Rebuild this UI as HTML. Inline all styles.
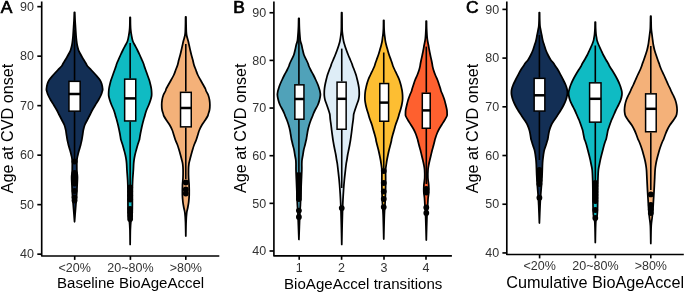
<!DOCTYPE html><html><head><meta charset="utf-8"><style>html,body{margin:0;padding:0;background:#fff;}svg{display:block;will-change:transform;}text{font-family:"Liberation Sans",sans-serif;}</style></head><body>
<svg width="685" height="292" viewBox="0 0 685 292" xmlns="http://www.w3.org/2000/svg">
<rect width="685" height="292" fill="#fff"/>
<g><path d="M74.75 12.30 C74.80 13.58 74.93 17.63 75.05 20.00 C75.17 22.37 75.28 23.87 75.45 26.50 C75.62 29.13 75.88 33.55 76.05 35.80 C76.22 38.05 76.27 38.47 76.45 40.00 C76.63 41.53 76.82 43.33 77.15 45.00 C77.48 46.67 78.00 48.67 78.45 50.00 C78.90 51.33 79.25 51.83 79.85 53.00 C80.45 54.17 81.18 55.50 82.05 57.00 C82.92 58.50 84.35 60.83 85.05 62.00 C85.75 63.17 85.87 63.33 86.25 64.00 C86.63 64.67 86.52 65.00 87.35 66.00 C88.18 67.00 89.83 68.50 91.25 70.00 C92.67 71.50 94.40 73.33 95.85 75.00 C97.30 76.67 98.97 78.50 99.95 80.00 C100.93 81.50 101.30 82.50 101.75 84.00 C102.20 85.50 102.55 87.83 102.65 89.00 C102.75 90.17 102.62 90.00 102.35 91.00 C102.08 92.00 101.70 93.50 101.05 95.00 C100.40 96.50 99.40 98.33 98.45 100.00 C97.50 101.67 96.37 103.33 95.35 105.00 C94.33 106.67 93.27 108.33 92.35 110.00 C91.43 111.67 90.70 113.33 89.85 115.00 C89.00 116.67 88.10 118.33 87.25 120.00 C86.40 121.67 85.40 123.33 84.75 125.00 C84.10 126.67 83.68 128.50 83.35 130.00 C83.02 131.50 82.98 132.50 82.75 134.00 C82.52 135.50 82.15 137.83 81.95 139.00 C81.75 140.17 81.77 140.00 81.55 141.00 C81.33 142.00 81.05 143.50 80.65 145.00 C80.25 146.50 79.62 148.33 79.15 150.00 C78.68 151.67 78.22 153.33 77.85 155.00 C77.48 156.67 77.12 157.50 76.95 160.00 C76.78 162.50 76.77 167.17 76.85 170.00 C76.93 172.83 77.40 174.50 77.45 177.00 C77.50 179.50 77.28 182.00 77.15 185.00 C77.02 188.00 76.87 191.67 76.65 195.00 C76.43 198.33 76.12 201.67 75.85 205.00 C75.58 208.33 75.27 212.20 75.05 215.00 C74.83 217.80 74.63 220.67 74.55 221.80 C74.47 220.67 74.27 217.80 74.05 215.00 C73.83 212.20 73.52 208.33 73.25 205.00 C72.98 201.67 72.67 198.33 72.45 195.00 C72.23 191.67 72.08 188.00 71.95 185.00 C71.82 182.00 71.60 179.50 71.65 177.00 C71.70 174.50 72.17 172.83 72.25 170.00 C72.33 167.17 72.32 162.50 72.15 160.00 C71.98 157.50 71.62 156.67 71.25 155.00 C70.88 153.33 70.42 151.67 69.95 150.00 C69.48 148.33 68.85 146.50 68.45 145.00 C68.05 143.50 67.77 142.00 67.55 141.00 C67.33 140.00 67.35 140.17 67.15 139.00 C66.95 137.83 66.58 135.50 66.35 134.00 C66.12 132.50 66.08 131.50 65.75 130.00 C65.42 128.50 65.00 126.67 64.35 125.00 C63.70 123.33 62.70 121.67 61.85 120.00 C61.00 118.33 60.10 116.67 59.25 115.00 C58.40 113.33 57.67 111.67 56.75 110.00 C55.83 108.33 54.77 106.67 53.75 105.00 C52.73 103.33 51.60 101.67 50.65 100.00 C49.70 98.33 48.70 96.50 48.05 95.00 C47.40 93.50 47.02 92.00 46.75 91.00 C46.48 90.00 46.35 90.17 46.45 89.00 C46.55 87.83 46.90 85.50 47.35 84.00 C47.80 82.50 48.17 81.50 49.15 80.00 C50.13 78.50 51.80 76.67 53.25 75.00 C54.70 73.33 56.43 71.50 57.85 70.00 C59.27 68.50 60.92 67.00 61.75 66.00 C62.58 65.00 62.47 64.67 62.85 64.00 C63.23 63.33 63.35 63.17 64.05 62.00 C64.75 60.83 66.18 58.50 67.05 57.00 C67.92 55.50 68.65 54.17 69.25 53.00 C69.85 51.83 70.20 51.33 70.65 50.00 C71.10 48.67 71.62 46.67 71.95 45.00 C72.28 43.33 72.47 41.53 72.65 40.00 C72.83 38.47 72.88 38.05 73.05 35.80 C73.22 33.55 73.48 29.13 73.65 26.50 C73.82 23.87 73.93 22.37 74.05 20.00 C74.17 17.63 74.30 13.58 74.35 12.30 Z" fill="#132f55" stroke="#000" stroke-width="1.75" stroke-linejoin="round"/><line x1="74.55" y1="30.00" x2="74.55" y2="80.60" stroke="#000" stroke-width="1.6"/><line x1="74.55" y1="111.90" x2="74.55" y2="160.00" stroke="#000" stroke-width="1.6"/><circle cx="74.55" cy="161.50" r="2.9" fill="#000"/><circle cx="74.55" cy="173.00" r="2.9" fill="#000"/><circle cx="74.55" cy="176.50" r="2.9" fill="#000"/><circle cx="74.55" cy="180.00" r="2.9" fill="#000"/><circle cx="74.55" cy="183.50" r="2.9" fill="#000"/><circle cx="74.55" cy="191.00" r="2.9" fill="#000"/><circle cx="74.55" cy="197.50" r="2.9" fill="#000"/><circle cx="74.55" cy="200.50" r="2.9" fill="#000"/><rect x="68.95" y="81.35" width="11.20" height="29.80" fill="#fff" stroke="#000" stroke-width="1.5"/><line x1="68.80" y1="94.00" x2="80.30" y2="94.00" stroke="#000" stroke-width="2.5"/><path d="M130.35 17.40 C130.37 18.67 130.38 22.90 130.45 25.00 C130.52 27.10 130.58 28.33 130.75 30.00 C130.92 31.67 131.12 33.17 131.45 35.00 C131.78 36.83 132.20 39.33 132.75 41.00 C133.30 42.67 133.98 43.50 134.75 45.00 C135.52 46.50 136.52 48.33 137.35 50.00 C138.18 51.67 138.98 53.33 139.75 55.00 C140.52 56.67 141.30 58.50 141.95 60.00 C142.60 61.50 143.27 63.00 143.65 64.00 C144.03 65.00 143.92 65.00 144.25 66.00 C144.58 67.00 145.12 68.50 145.65 70.00 C146.18 71.50 146.85 73.33 147.45 75.00 C148.05 76.67 148.73 78.33 149.25 80.00 C149.77 81.67 150.20 83.50 150.55 85.00 C150.90 86.50 151.17 87.67 151.35 89.00 C151.53 90.33 151.62 91.83 151.65 93.00 C151.68 94.17 151.73 94.83 151.55 96.00 C151.37 97.17 151.02 98.50 150.55 100.00 C150.08 101.50 149.42 103.33 148.75 105.00 C148.08 106.67 147.13 108.50 146.55 110.00 C145.97 111.50 145.55 113.00 145.25 114.00 C144.95 115.00 145.03 115.00 144.75 116.00 C144.47 117.00 143.97 118.50 143.55 120.00 C143.13 121.50 142.65 123.33 142.25 125.00 C141.85 126.67 141.47 128.50 141.15 130.00 C140.83 131.50 140.62 132.50 140.35 134.00 C140.08 135.50 139.78 137.83 139.55 139.00 C139.32 140.17 139.27 140.00 138.95 141.00 C138.63 142.00 138.10 143.50 137.65 145.00 C137.20 146.50 136.70 148.33 136.25 150.00 C135.80 151.67 135.32 153.33 134.95 155.00 C134.58 156.67 134.27 158.50 134.05 160.00 C133.83 161.50 133.77 162.33 133.65 164.00 C133.53 165.67 133.52 167.33 133.35 170.00 C133.18 172.67 132.82 176.67 132.65 180.00 C132.48 183.33 132.40 185.83 132.35 190.00 C132.30 194.17 132.40 200.83 132.35 205.00 C132.30 209.17 132.30 212.17 132.05 215.00 C131.80 217.83 131.13 219.50 130.85 222.00 C130.57 224.50 130.47 226.27 130.35 230.00 C130.23 233.73 130.18 242.00 130.15 244.40 C130.12 242.00 130.07 233.73 129.95 230.00 C129.83 226.27 129.73 224.50 129.45 222.00 C129.17 219.50 128.50 217.83 128.25 215.00 C128.00 212.17 128.00 209.17 127.95 205.00 C127.90 200.83 128.00 194.17 127.95 190.00 C127.90 185.83 127.82 183.33 127.65 180.00 C127.48 176.67 127.12 172.67 126.95 170.00 C126.78 167.33 126.77 165.67 126.65 164.00 C126.53 162.33 126.47 161.50 126.25 160.00 C126.03 158.50 125.72 156.67 125.35 155.00 C124.98 153.33 124.50 151.67 124.05 150.00 C123.60 148.33 123.10 146.50 122.65 145.00 C122.20 143.50 121.67 142.00 121.35 141.00 C121.03 140.00 120.98 140.17 120.75 139.00 C120.52 137.83 120.22 135.50 119.95 134.00 C119.68 132.50 119.47 131.50 119.15 130.00 C118.83 128.50 118.45 126.67 118.05 125.00 C117.65 123.33 117.17 121.50 116.75 120.00 C116.33 118.50 115.83 117.00 115.55 116.00 C115.27 115.00 115.35 115.00 115.05 114.00 C114.75 113.00 114.33 111.50 113.75 110.00 C113.17 108.50 112.22 106.67 111.55 105.00 C110.88 103.33 110.22 101.50 109.75 100.00 C109.28 98.50 108.93 97.17 108.75 96.00 C108.57 94.83 108.62 94.17 108.65 93.00 C108.68 91.83 108.77 90.33 108.95 89.00 C109.13 87.67 109.40 86.50 109.75 85.00 C110.10 83.50 110.53 81.67 111.05 80.00 C111.57 78.33 112.25 76.67 112.85 75.00 C113.45 73.33 114.12 71.50 114.65 70.00 C115.18 68.50 115.72 67.00 116.05 66.00 C116.38 65.00 116.27 65.00 116.65 64.00 C117.03 63.00 117.70 61.50 118.35 60.00 C119.00 58.50 119.78 56.67 120.55 55.00 C121.32 53.33 122.12 51.67 122.95 50.00 C123.78 48.33 124.78 46.50 125.55 45.00 C126.32 43.50 127.00 42.67 127.55 41.00 C128.10 39.33 128.52 36.83 128.85 35.00 C129.18 33.17 129.38 31.67 129.55 30.00 C129.72 28.33 129.78 27.10 129.85 25.00 C129.92 22.90 129.93 18.67 129.95 17.40 Z" fill="#0fbbc3" stroke="#000" stroke-width="1.75" stroke-linejoin="round"/><line x1="130.15" y1="43.00" x2="130.15" y2="78.40" stroke="#000" stroke-width="1.6"/><line x1="130.15" y1="121.70" x2="130.15" y2="185.00" stroke="#000" stroke-width="1.6"/><circle cx="130.15" cy="187.50" r="2.9" fill="#000"/><circle cx="130.15" cy="191.50" r="2.9" fill="#000"/><circle cx="130.15" cy="195.50" r="2.9" fill="#000"/><circle cx="130.15" cy="199.50" r="2.9" fill="#000"/><circle cx="130.15" cy="209.00" r="2.9" fill="#000"/><circle cx="130.15" cy="212.50" r="2.9" fill="#000"/><circle cx="130.15" cy="216.00" r="2.9" fill="#000"/><circle cx="130.15" cy="219.00" r="2.9" fill="#000"/><rect x="124.65" y="79.15" width="11.10" height="41.80" fill="#fff" stroke="#000" stroke-width="1.5"/><line x1="124.50" y1="98.40" x2="135.90" y2="98.40" stroke="#000" stroke-width="2.5"/><path d="M186.00 16.90 C186.02 18.25 186.05 22.48 186.10 25.00 C186.15 27.52 186.18 30.17 186.30 32.00 C186.42 33.83 186.48 34.50 186.80 36.00 C187.12 37.50 187.82 39.50 188.20 41.00 C188.58 42.50 188.77 43.50 189.10 45.00 C189.43 46.50 189.82 48.33 190.20 50.00 C190.58 51.67 190.97 53.33 191.40 55.00 C191.83 56.67 192.37 58.33 192.80 60.00 C193.23 61.67 193.48 63.33 194.00 65.00 C194.52 66.67 195.27 68.33 195.90 70.00 C196.53 71.67 197.03 73.33 197.80 75.00 C198.57 76.67 199.58 78.33 200.50 80.00 C201.42 81.67 202.47 83.50 203.30 85.00 C204.13 86.50 205.03 88.00 205.50 89.00 C205.97 90.00 205.65 90.00 206.10 91.00 C206.55 92.00 207.63 93.50 208.20 95.00 C208.77 96.50 209.22 98.33 209.50 100.00 C209.78 101.67 209.90 103.33 209.90 105.00 C209.90 106.67 209.77 108.50 209.50 110.00 C209.23 111.50 208.60 113.00 208.30 114.00 C208.00 115.00 208.20 115.00 207.70 116.00 C207.20 117.00 206.27 118.50 205.30 120.00 C204.33 121.50 202.88 123.33 201.90 125.00 C200.92 126.67 200.03 128.50 199.40 130.00 C198.77 131.50 198.63 132.33 198.10 134.00 C197.57 135.67 196.87 138.17 196.20 140.00 C195.53 141.83 194.72 143.33 194.10 145.00 C193.48 146.67 193.00 148.33 192.50 150.00 C192.00 151.67 191.55 153.33 191.10 155.00 C190.65 156.67 190.17 158.50 189.80 160.00 C189.43 161.50 189.12 162.33 188.90 164.00 C188.68 165.67 188.55 167.67 188.50 170.00 C188.45 172.33 188.50 175.50 188.60 178.00 C188.70 180.50 189.00 182.17 189.10 185.00 C189.20 187.83 189.27 192.17 189.20 195.00 C189.13 197.83 188.95 199.83 188.70 202.00 C188.45 204.17 188.03 206.17 187.70 208.00 C187.37 209.83 186.97 210.67 186.70 213.00 C186.43 215.33 186.25 218.17 186.10 222.00 C185.95 225.83 185.85 233.67 185.80 236.00 C185.75 233.67 185.65 225.83 185.50 222.00 C185.35 218.17 185.17 215.33 184.90 213.00 C184.63 210.67 184.23 209.83 183.90 208.00 C183.57 206.17 183.15 204.17 182.90 202.00 C182.65 199.83 182.47 197.83 182.40 195.00 C182.33 192.17 182.40 187.83 182.50 185.00 C182.60 182.17 182.90 180.50 183.00 178.00 C183.10 175.50 183.15 172.33 183.10 170.00 C183.05 167.67 182.92 165.67 182.70 164.00 C182.48 162.33 182.17 161.50 181.80 160.00 C181.43 158.50 180.95 156.67 180.50 155.00 C180.05 153.33 179.60 151.67 179.10 150.00 C178.60 148.33 178.12 146.67 177.50 145.00 C176.88 143.33 176.07 141.83 175.40 140.00 C174.73 138.17 174.03 135.67 173.50 134.00 C172.97 132.33 172.83 131.50 172.20 130.00 C171.57 128.50 170.68 126.67 169.70 125.00 C168.72 123.33 167.27 121.50 166.30 120.00 C165.33 118.50 164.40 117.00 163.90 116.00 C163.40 115.00 163.60 115.00 163.30 114.00 C163.00 113.00 162.37 111.50 162.10 110.00 C161.83 108.50 161.70 106.67 161.70 105.00 C161.70 103.33 161.82 101.67 162.10 100.00 C162.38 98.33 162.83 96.50 163.40 95.00 C163.97 93.50 165.05 92.00 165.50 91.00 C165.95 90.00 165.63 90.00 166.10 89.00 C166.57 88.00 167.47 86.50 168.30 85.00 C169.13 83.50 170.18 81.67 171.10 80.00 C172.02 78.33 173.03 76.67 173.80 75.00 C174.57 73.33 175.07 71.67 175.70 70.00 C176.33 68.33 177.08 66.67 177.60 65.00 C178.12 63.33 178.37 61.67 178.80 60.00 C179.23 58.33 179.77 56.67 180.20 55.00 C180.63 53.33 181.02 51.67 181.40 50.00 C181.78 48.33 182.17 46.50 182.50 45.00 C182.83 43.50 183.02 42.50 183.40 41.00 C183.78 39.50 184.48 37.50 184.80 36.00 C185.12 34.50 185.18 33.83 185.30 32.00 C185.42 30.17 185.45 27.52 185.50 25.00 C185.55 22.48 185.58 18.25 185.60 16.90 Z" fill="#f4b179" stroke="#000" stroke-width="1.75" stroke-linejoin="round"/><line x1="185.80" y1="44.00" x2="185.80" y2="91.60" stroke="#000" stroke-width="1.6"/><line x1="185.80" y1="127.60" x2="185.80" y2="179.00" stroke="#000" stroke-width="1.6"/><circle cx="185.80" cy="182.50" r="2.9" fill="#000"/><circle cx="185.80" cy="189.50" r="2.9" fill="#000"/><circle cx="185.80" cy="193.50" r="2.9" fill="#000"/><rect x="180.55" y="92.35" width="10.70" height="34.50" fill="#fff" stroke="#000" stroke-width="1.5"/><line x1="180.40" y1="108.00" x2="191.40" y2="108.00" stroke="#000" stroke-width="2.5"/><path d="M41.70 1.50 V256.00 H219.30" fill="none" stroke="#000" stroke-width="1.65" stroke-linecap="butt" stroke-linejoin="round"/><line x1="37.30" y1="6.65" x2="41.70" y2="6.65" stroke="#000" stroke-width="1.65"/><text x="34.00" y="10.85" font-size="12.5" fill="#333" text-anchor="end">90</text><line x1="37.30" y1="56.15" x2="41.70" y2="56.15" stroke="#000" stroke-width="1.65"/><text x="34.00" y="60.35" font-size="12.5" fill="#333" text-anchor="end">80</text><line x1="37.30" y1="105.65" x2="41.70" y2="105.65" stroke="#000" stroke-width="1.65"/><text x="34.00" y="109.85" font-size="12.5" fill="#333" text-anchor="end">70</text><line x1="37.30" y1="155.15" x2="41.70" y2="155.15" stroke="#000" stroke-width="1.65"/><text x="34.00" y="159.35" font-size="12.5" fill="#333" text-anchor="end">60</text><line x1="37.30" y1="204.65" x2="41.70" y2="204.65" stroke="#000" stroke-width="1.65"/><text x="34.00" y="208.85" font-size="12.5" fill="#333" text-anchor="end">50</text><line x1="37.30" y1="254.15" x2="41.70" y2="254.15" stroke="#000" stroke-width="1.65"/><text x="34.00" y="258.35" font-size="12.5" fill="#333" text-anchor="end">40</text><line x1="74.70" y1="256.00" x2="74.70" y2="259.90" stroke="#000" stroke-width="1.65"/><text x="74.70" y="271.60" font-size="12.5" fill="#333" text-anchor="middle">&lt;20%</text><line x1="130.40" y1="256.00" x2="130.40" y2="259.90" stroke="#000" stroke-width="1.65"/><text x="130.40" y="271.60" font-size="12.5" fill="#333" text-anchor="middle">20~80%</text><line x1="185.80" y1="256.00" x2="185.80" y2="259.90" stroke="#000" stroke-width="1.65"/><text x="185.80" y="271.60" font-size="12.5" fill="#333" text-anchor="middle">&gt;80%</text><text x="130.60" y="288.40" font-size="15.05" fill="#000" text-anchor="middle">Baseline BioAgeAccel</text><text transform="translate(13.20 128.50) rotate(-90)" font-size="16.2" fill="#000" text-anchor="middle">Age at CVD onset</text><text x="0.80" y="12.85" font-size="17.4" fill="#000" stroke="#000" stroke-width="0.7">A</text></g>
<g><path d="M299.15 18.40 C299.17 19.67 299.22 23.73 299.30 26.00 C299.37 28.27 299.48 30.17 299.60 32.00 C299.72 33.83 299.87 35.50 300.00 37.00 C300.13 38.50 300.13 39.67 300.40 41.00 C300.67 42.33 301.22 43.50 301.60 45.00 C301.98 46.50 302.30 48.33 302.70 50.00 C303.10 51.67 303.38 53.33 304.00 55.00 C304.62 56.67 305.70 58.50 306.40 60.00 C307.10 61.50 307.80 63.00 308.20 64.00 C308.60 65.00 308.38 65.00 308.80 66.00 C309.22 67.00 309.93 68.50 310.70 70.00 C311.47 71.50 312.55 73.33 313.40 75.00 C314.25 76.67 315.03 78.33 315.80 80.00 C316.57 81.67 317.42 83.50 318.00 85.00 C318.58 86.50 318.98 88.00 319.30 89.00 C319.62 90.00 319.72 90.00 319.90 91.00 C320.08 92.00 320.47 93.50 320.40 95.00 C320.33 96.50 319.93 98.33 319.50 100.00 C319.07 101.67 318.53 103.33 317.80 105.00 C317.07 106.67 315.85 108.50 315.10 110.00 C314.35 111.50 313.72 113.00 313.30 114.00 C312.88 115.00 313.00 115.00 312.60 116.00 C312.20 117.00 311.47 118.50 310.90 120.00 C310.33 121.50 309.70 123.33 309.20 125.00 C308.70 126.67 308.23 128.50 307.90 130.00 C307.57 131.50 307.45 132.50 307.20 134.00 C306.95 135.50 306.62 137.83 306.40 139.00 C306.18 140.17 306.13 140.00 305.90 141.00 C305.67 142.00 305.37 143.50 305.00 145.00 C304.63 146.50 304.05 148.33 303.70 150.00 C303.35 151.67 303.18 153.33 302.90 155.00 C302.62 156.67 302.18 158.50 302.00 160.00 C301.82 161.50 301.83 162.33 301.80 164.00 C301.77 165.67 301.87 167.33 301.80 170.00 C301.73 172.67 301.57 175.83 301.40 180.00 C301.23 184.17 300.97 190.83 300.80 195.00 C300.63 199.17 300.57 201.67 300.40 205.00 C300.23 208.33 300.05 209.25 299.80 215.00 C299.55 220.75 299.05 235.42 298.90 239.50 C298.75 235.42 298.25 220.75 298.00 215.00 C297.75 209.25 297.57 208.33 297.40 205.00 C297.23 201.67 297.17 199.17 297.00 195.00 C296.83 190.83 296.57 184.17 296.40 180.00 C296.23 175.83 296.07 172.67 296.00 170.00 C295.93 167.33 296.03 165.67 296.00 164.00 C295.97 162.33 295.98 161.50 295.80 160.00 C295.62 158.50 295.18 156.67 294.90 155.00 C294.62 153.33 294.45 151.67 294.10 150.00 C293.75 148.33 293.17 146.50 292.80 145.00 C292.43 143.50 292.13 142.00 291.90 141.00 C291.67 140.00 291.62 140.17 291.40 139.00 C291.18 137.83 290.85 135.50 290.60 134.00 C290.35 132.50 290.23 131.50 289.90 130.00 C289.57 128.50 289.10 126.67 288.60 125.00 C288.10 123.33 287.47 121.50 286.90 120.00 C286.33 118.50 285.60 117.00 285.20 116.00 C284.80 115.00 284.92 115.00 284.50 114.00 C284.08 113.00 283.45 111.50 282.70 110.00 C281.95 108.50 280.73 106.67 280.00 105.00 C279.27 103.33 278.73 101.67 278.30 100.00 C277.87 98.33 277.47 96.50 277.40 95.00 C277.33 93.50 277.72 92.00 277.90 91.00 C278.08 90.00 278.18 90.00 278.50 89.00 C278.82 88.00 279.22 86.50 279.80 85.00 C280.38 83.50 281.23 81.67 282.00 80.00 C282.77 78.33 283.55 76.67 284.40 75.00 C285.25 73.33 286.33 71.50 287.10 70.00 C287.87 68.50 288.58 67.00 289.00 66.00 C289.42 65.00 289.20 65.00 289.60 64.00 C290.00 63.00 290.70 61.50 291.40 60.00 C292.10 58.50 293.18 56.67 293.80 55.00 C294.42 53.33 294.70 51.67 295.10 50.00 C295.50 48.33 295.82 46.50 296.20 45.00 C296.58 43.50 297.13 42.33 297.40 41.00 C297.67 39.67 297.67 38.50 297.80 37.00 C297.93 35.50 298.08 33.83 298.20 32.00 C298.32 30.17 298.43 28.27 298.50 26.00 C298.57 23.73 298.62 19.67 298.65 18.40 Z" fill="#50a2b9" stroke="#000" stroke-width="1.75" stroke-linejoin="round"/><line x1="298.90" y1="35.00" x2="298.90" y2="84.10" stroke="#000" stroke-width="1.6"/><line x1="298.90" y1="120.00" x2="298.90" y2="172.00" stroke="#000" stroke-width="1.6"/><circle cx="298.90" cy="175.00" r="2.9" fill="#000"/><circle cx="298.90" cy="178.00" r="2.9" fill="#000"/><circle cx="298.90" cy="181.00" r="2.9" fill="#000"/><circle cx="298.90" cy="184.00" r="2.9" fill="#000"/><circle cx="298.90" cy="187.00" r="2.9" fill="#000"/><circle cx="298.90" cy="190.00" r="2.9" fill="#000"/><circle cx="298.90" cy="193.00" r="2.9" fill="#000"/><circle cx="298.90" cy="196.00" r="2.9" fill="#000"/><circle cx="298.90" cy="199.00" r="2.9" fill="#000"/><circle cx="298.90" cy="210.60" r="2.9" fill="#000"/><circle cx="298.90" cy="216.90" r="2.9" fill="#000"/><rect x="294.85" y="84.85" width="9.10" height="34.40" fill="#fff" stroke="#000" stroke-width="1.5"/><line x1="294.70" y1="99.00" x2="304.10" y2="99.00" stroke="#000" stroke-width="2.5"/><path d="M341.95 12.50 C341.97 13.75 342.02 17.08 342.05 20.00 C342.08 22.92 342.05 27.50 342.15 30.00 C342.25 32.50 342.42 33.17 342.65 35.00 C342.88 36.83 343.22 39.33 343.55 41.00 C343.88 42.67 344.18 43.50 344.65 45.00 C345.12 46.50 345.75 48.33 346.35 50.00 C346.95 51.67 347.58 53.33 348.25 55.00 C348.92 56.67 349.72 58.50 350.35 60.00 C350.98 61.50 351.67 63.00 352.05 64.00 C352.43 65.00 352.28 65.00 352.65 66.00 C353.02 67.00 353.68 68.50 354.25 70.00 C354.82 71.50 355.53 73.33 356.05 75.00 C356.57 76.67 356.95 78.33 357.35 80.00 C357.75 81.67 358.17 83.50 358.45 85.00 C358.73 86.50 358.92 87.67 359.05 89.00 C359.18 90.33 359.23 91.83 359.25 93.00 C359.27 94.17 359.28 94.83 359.15 96.00 C359.02 97.17 358.87 98.50 358.45 100.00 C358.03 101.50 357.23 103.33 356.65 105.00 C356.07 106.67 355.43 108.50 354.95 110.00 C354.47 111.50 354.00 112.83 353.75 114.00 C353.50 115.17 353.55 116.00 353.45 117.00 C353.35 118.00 353.32 118.67 353.15 120.00 C352.98 121.33 352.67 123.33 352.45 125.00 C352.23 126.67 352.03 128.50 351.85 130.00 C351.67 131.50 351.55 132.50 351.35 134.00 C351.15 135.50 350.82 137.83 350.65 139.00 C350.48 140.17 350.52 140.00 350.35 141.00 C350.18 142.00 349.93 143.50 349.65 145.00 C349.37 146.50 348.98 148.33 348.65 150.00 C348.32 151.67 347.95 153.33 347.65 155.00 C347.35 156.67 347.10 158.50 346.85 160.00 C346.60 161.50 346.38 162.33 346.15 164.00 C345.92 165.67 345.75 167.33 345.45 170.00 C345.15 172.67 344.67 176.67 344.35 180.00 C344.03 183.33 343.78 186.67 343.55 190.00 C343.32 193.33 343.12 196.67 342.95 200.00 C342.78 203.33 342.68 205.83 342.55 210.00 C342.42 214.17 342.28 219.27 342.15 225.00 C342.02 230.73 341.82 241.17 341.75 244.40 C341.68 241.17 341.48 230.73 341.35 225.00 C341.22 219.27 341.08 214.17 340.95 210.00 C340.82 205.83 340.72 203.33 340.55 200.00 C340.38 196.67 340.18 193.33 339.95 190.00 C339.72 186.67 339.47 183.33 339.15 180.00 C338.83 176.67 338.35 172.67 338.05 170.00 C337.75 167.33 337.58 165.67 337.35 164.00 C337.12 162.33 336.90 161.50 336.65 160.00 C336.40 158.50 336.15 156.67 335.85 155.00 C335.55 153.33 335.18 151.67 334.85 150.00 C334.52 148.33 334.13 146.50 333.85 145.00 C333.57 143.50 333.32 142.00 333.15 141.00 C332.98 140.00 333.02 140.17 332.85 139.00 C332.68 137.83 332.35 135.50 332.15 134.00 C331.95 132.50 331.83 131.50 331.65 130.00 C331.47 128.50 331.27 126.67 331.05 125.00 C330.83 123.33 330.52 121.33 330.35 120.00 C330.18 118.67 330.15 118.00 330.05 117.00 C329.95 116.00 330.00 115.17 329.75 114.00 C329.50 112.83 329.03 111.50 328.55 110.00 C328.07 108.50 327.43 106.67 326.85 105.00 C326.27 103.33 325.47 101.50 325.05 100.00 C324.63 98.50 324.48 97.17 324.35 96.00 C324.22 94.83 324.23 94.17 324.25 93.00 C324.27 91.83 324.32 90.33 324.45 89.00 C324.58 87.67 324.77 86.50 325.05 85.00 C325.33 83.50 325.75 81.67 326.15 80.00 C326.55 78.33 326.93 76.67 327.45 75.00 C327.97 73.33 328.68 71.50 329.25 70.00 C329.82 68.50 330.48 67.00 330.85 66.00 C331.22 65.00 331.07 65.00 331.45 64.00 C331.83 63.00 332.52 61.50 333.15 60.00 C333.78 58.50 334.58 56.67 335.25 55.00 C335.92 53.33 336.55 51.67 337.15 50.00 C337.75 48.33 338.38 46.50 338.85 45.00 C339.32 43.50 339.62 42.67 339.95 41.00 C340.28 39.33 340.62 36.83 340.85 35.00 C341.08 33.17 341.25 32.50 341.35 30.00 C341.45 27.50 341.42 22.92 341.45 20.00 C341.48 17.08 341.53 13.75 341.55 12.50 Z" fill="#deedf7" stroke="#000" stroke-width="1.75" stroke-linejoin="round"/><line x1="341.75" y1="48.60" x2="341.75" y2="81.40" stroke="#000" stroke-width="1.6"/><line x1="341.75" y1="130.00" x2="341.75" y2="188.00" stroke="#000" stroke-width="1.6"/><circle cx="341.75" cy="208.10" r="2.9" fill="#000"/><rect x="337.05" y="82.15" width="9.10" height="47.10" fill="#fff" stroke="#000" stroke-width="1.5"/><line x1="336.90" y1="98.80" x2="346.30" y2="98.80" stroke="#000" stroke-width="2.5"/><path d="M383.95 20.30 C383.97 21.58 383.98 25.88 384.05 28.00 C384.12 30.12 384.22 31.50 384.35 33.00 C384.48 34.50 384.68 35.67 384.85 37.00 C385.02 38.33 385.12 39.67 385.35 41.00 C385.58 42.33 385.87 43.50 386.25 45.00 C386.63 46.50 387.17 48.33 387.65 50.00 C388.13 51.67 388.60 53.33 389.15 55.00 C389.70 56.67 390.42 58.50 390.95 60.00 C391.48 61.50 392.02 63.00 392.35 64.00 C392.68 65.00 392.55 65.00 392.95 66.00 C393.35 67.00 394.05 68.50 394.75 70.00 C395.45 71.50 396.38 73.33 397.15 75.00 C397.92 76.67 398.73 78.33 399.35 80.00 C399.97 81.67 400.45 83.50 400.85 85.00 C401.25 86.50 401.53 88.00 401.75 89.00 C401.97 90.00 402.02 90.00 402.15 91.00 C402.28 92.00 402.48 93.50 402.55 95.00 C402.62 96.50 402.68 98.33 402.55 100.00 C402.42 101.67 402.10 103.33 401.75 105.00 C401.40 106.67 400.88 108.50 400.45 110.00 C400.02 111.50 399.45 113.00 399.15 114.00 C398.85 115.00 398.95 115.00 398.65 116.00 C398.35 117.00 397.87 118.50 397.35 120.00 C396.83 121.50 396.08 123.33 395.55 125.00 C395.02 126.67 394.58 128.50 394.15 130.00 C393.72 131.50 393.37 132.50 392.95 134.00 C392.53 135.50 391.92 137.83 391.65 139.00 C391.38 140.17 391.57 140.00 391.35 141.00 C391.13 142.00 390.73 143.50 390.35 145.00 C389.97 146.50 389.45 148.33 389.05 150.00 C388.65 151.67 388.30 153.33 387.95 155.00 C387.60 156.67 387.22 158.50 386.95 160.00 C386.68 161.50 386.57 162.33 386.35 164.00 C386.13 165.67 385.77 166.50 385.65 170.00 C385.53 173.50 385.72 180.00 385.65 185.00 C385.58 190.00 385.47 195.00 385.25 200.00 C385.03 205.00 384.60 208.50 384.35 215.00 C384.10 221.50 383.85 235.00 383.75 239.00 C383.65 235.00 383.40 221.50 383.15 215.00 C382.90 208.50 382.47 205.00 382.25 200.00 C382.03 195.00 381.92 190.00 381.85 185.00 C381.78 180.00 381.97 173.50 381.85 170.00 C381.73 166.50 381.37 165.67 381.15 164.00 C380.93 162.33 380.82 161.50 380.55 160.00 C380.28 158.50 379.90 156.67 379.55 155.00 C379.20 153.33 378.85 151.67 378.45 150.00 C378.05 148.33 377.53 146.50 377.15 145.00 C376.77 143.50 376.37 142.00 376.15 141.00 C375.93 140.00 376.12 140.17 375.85 139.00 C375.58 137.83 374.97 135.50 374.55 134.00 C374.13 132.50 373.78 131.50 373.35 130.00 C372.92 128.50 372.48 126.67 371.95 125.00 C371.42 123.33 370.67 121.50 370.15 120.00 C369.63 118.50 369.15 117.00 368.85 116.00 C368.55 115.00 368.65 115.00 368.35 114.00 C368.05 113.00 367.48 111.50 367.05 110.00 C366.62 108.50 366.10 106.67 365.75 105.00 C365.40 103.33 365.08 101.67 364.95 100.00 C364.82 98.33 364.88 96.50 364.95 95.00 C365.02 93.50 365.22 92.00 365.35 91.00 C365.48 90.00 365.53 90.00 365.75 89.00 C365.97 88.00 366.25 86.50 366.65 85.00 C367.05 83.50 367.53 81.67 368.15 80.00 C368.77 78.33 369.58 76.67 370.35 75.00 C371.12 73.33 372.05 71.50 372.75 70.00 C373.45 68.50 374.15 67.00 374.55 66.00 C374.95 65.00 374.82 65.00 375.15 64.00 C375.48 63.00 376.02 61.50 376.55 60.00 C377.08 58.50 377.80 56.67 378.35 55.00 C378.90 53.33 379.37 51.67 379.85 50.00 C380.33 48.33 380.87 46.50 381.25 45.00 C381.63 43.50 381.92 42.33 382.15 41.00 C382.38 39.67 382.48 38.33 382.65 37.00 C382.82 35.67 383.02 34.50 383.15 33.00 C383.28 31.50 383.38 30.12 383.45 28.00 C383.52 25.88 383.53 21.58 383.55 20.30 Z" fill="#fdbe32" stroke="#000" stroke-width="1.75" stroke-linejoin="round"/><line x1="383.75" y1="52.50" x2="383.75" y2="82.80" stroke="#000" stroke-width="1.6"/><line x1="383.75" y1="122.00" x2="383.75" y2="168.00" stroke="#000" stroke-width="1.6"/><circle cx="383.75" cy="171.00" r="2.9" fill="#000"/><circle cx="383.75" cy="183.00" r="2.9" fill="#000"/><circle cx="383.75" cy="191.50" r="2.9" fill="#000"/><circle cx="383.75" cy="199.00" r="2.9" fill="#000"/><circle cx="383.75" cy="207.10" r="2.9" fill="#000"/><rect x="379.80" y="83.55" width="8.80" height="37.70" fill="#fff" stroke="#000" stroke-width="1.5"/><line x1="379.65" y1="102.60" x2="388.75" y2="102.60" stroke="#000" stroke-width="2.5"/><path d="M426.50 21.10 C426.52 22.25 426.53 25.85 426.60 28.00 C426.67 30.15 426.80 32.33 426.90 34.00 C427.00 35.67 427.08 36.83 427.20 38.00 C427.32 39.17 427.40 39.83 427.60 41.00 C427.80 42.17 428.12 43.50 428.40 45.00 C428.68 46.50 428.98 48.33 429.30 50.00 C429.62 51.67 429.95 53.33 430.30 55.00 C430.65 56.67 431.08 58.50 431.40 60.00 C431.72 61.50 432.02 63.00 432.20 64.00 C432.38 65.00 432.28 65.00 432.50 66.00 C432.72 67.00 433.03 68.50 433.50 70.00 C433.97 71.50 434.63 73.33 435.30 75.00 C435.97 76.67 436.85 78.33 437.50 80.00 C438.15 81.67 438.70 83.50 439.20 85.00 C439.70 86.50 440.20 88.00 440.50 89.00 C440.80 90.00 440.63 90.00 441.00 91.00 C441.37 92.00 442.12 93.50 442.70 95.00 C443.28 96.50 443.98 98.33 444.50 100.00 C445.02 101.67 445.40 103.33 445.80 105.00 C446.20 106.67 446.68 108.50 446.90 110.00 C447.12 111.50 447.10 113.00 447.10 114.00 C447.10 115.00 447.30 115.00 446.90 116.00 C446.50 117.00 445.58 118.50 444.70 120.00 C443.82 121.50 442.62 123.33 441.60 125.00 C440.58 126.67 439.40 128.50 438.60 130.00 C437.80 131.50 437.38 132.50 436.80 134.00 C436.22 135.50 435.47 137.83 435.10 139.00 C434.73 140.17 434.85 140.00 434.60 141.00 C434.35 142.00 434.00 143.50 433.60 145.00 C433.20 146.50 432.63 148.33 432.20 150.00 C431.77 151.67 431.40 153.33 431.00 155.00 C430.60 156.67 430.15 158.50 429.80 160.00 C429.45 161.50 429.20 162.33 428.90 164.00 C428.60 165.67 428.17 167.67 428.00 170.00 C427.83 172.33 427.78 175.50 427.90 178.00 C428.02 180.50 428.55 182.67 428.70 185.00 C428.85 187.33 428.90 189.83 428.80 192.00 C428.70 194.17 428.28 195.83 428.10 198.00 C427.92 200.17 427.88 202.17 427.70 205.00 C427.52 207.83 427.23 209.17 427.00 215.00 C426.77 220.83 426.42 235.83 426.30 240.00 C426.18 235.83 425.83 220.83 425.60 215.00 C425.37 209.17 425.08 207.83 424.90 205.00 C424.72 202.17 424.68 200.17 424.50 198.00 C424.32 195.83 423.90 194.17 423.80 192.00 C423.70 189.83 423.75 187.33 423.90 185.00 C424.05 182.67 424.58 180.50 424.70 178.00 C424.82 175.50 424.77 172.33 424.60 170.00 C424.43 167.67 424.00 165.67 423.70 164.00 C423.40 162.33 423.15 161.50 422.80 160.00 C422.45 158.50 422.00 156.67 421.60 155.00 C421.20 153.33 420.83 151.67 420.40 150.00 C419.97 148.33 419.40 146.50 419.00 145.00 C418.60 143.50 418.25 142.00 418.00 141.00 C417.75 140.00 417.87 140.17 417.50 139.00 C417.13 137.83 416.38 135.50 415.80 134.00 C415.22 132.50 414.80 131.50 414.00 130.00 C413.20 128.50 412.02 126.67 411.00 125.00 C409.98 123.33 408.78 121.50 407.90 120.00 C407.02 118.50 406.10 117.00 405.70 116.00 C405.30 115.00 405.50 115.00 405.50 114.00 C405.50 113.00 405.48 111.50 405.70 110.00 C405.92 108.50 406.40 106.67 406.80 105.00 C407.20 103.33 407.58 101.67 408.10 100.00 C408.62 98.33 409.32 96.50 409.90 95.00 C410.48 93.50 411.23 92.00 411.60 91.00 C411.97 90.00 411.80 90.00 412.10 89.00 C412.40 88.00 412.90 86.50 413.40 85.00 C413.90 83.50 414.45 81.67 415.10 80.00 C415.75 78.33 416.63 76.67 417.30 75.00 C417.97 73.33 418.63 71.50 419.10 70.00 C419.57 68.50 419.88 67.00 420.10 66.00 C420.32 65.00 420.22 65.00 420.40 64.00 C420.58 63.00 420.88 61.50 421.20 60.00 C421.52 58.50 421.95 56.67 422.30 55.00 C422.65 53.33 422.98 51.67 423.30 50.00 C423.62 48.33 423.92 46.50 424.20 45.00 C424.48 43.50 424.80 42.17 425.00 41.00 C425.20 39.83 425.28 39.17 425.40 38.00 C425.52 36.83 425.60 35.67 425.70 34.00 C425.80 32.33 425.93 30.15 426.00 28.00 C426.07 25.85 426.08 22.25 426.10 21.10 Z" fill="#fe602f" stroke="#000" stroke-width="1.75" stroke-linejoin="round"/><line x1="426.30" y1="46.60" x2="426.30" y2="92.50" stroke="#000" stroke-width="1.6"/><line x1="426.30" y1="129.00" x2="426.30" y2="184.00" stroke="#000" stroke-width="1.6"/><circle cx="426.30" cy="189.00" r="2.9" fill="#000"/><circle cx="426.30" cy="192.50" r="2.9" fill="#000"/><circle cx="426.30" cy="207.40" r="2.9" fill="#000"/><circle cx="426.30" cy="213.00" r="2.9" fill="#000"/><rect x="422.30" y="93.25" width="7.90" height="35.00" fill="#fff" stroke="#000" stroke-width="1.5"/><line x1="422.15" y1="110.40" x2="430.35" y2="110.40" stroke="#000" stroke-width="2.5"/><path d="M273.90 1.50 V255.90 H451.90" fill="none" stroke="#000" stroke-width="1.65" stroke-linecap="butt" stroke-linejoin="round"/><line x1="269.50" y1="12.75" x2="273.90" y2="12.75" stroke="#000" stroke-width="1.65"/><text x="266.20" y="16.95" font-size="12.5" fill="#333" text-anchor="end">90</text><line x1="269.50" y1="60.40" x2="273.90" y2="60.40" stroke="#000" stroke-width="1.65"/><text x="266.20" y="64.60" font-size="12.5" fill="#333" text-anchor="end">80</text><line x1="269.50" y1="108.05" x2="273.90" y2="108.05" stroke="#000" stroke-width="1.65"/><text x="266.20" y="112.25" font-size="12.5" fill="#333" text-anchor="end">70</text><line x1="269.50" y1="155.70" x2="273.90" y2="155.70" stroke="#000" stroke-width="1.65"/><text x="266.20" y="159.90" font-size="12.5" fill="#333" text-anchor="end">60</text><line x1="269.50" y1="203.35" x2="273.90" y2="203.35" stroke="#000" stroke-width="1.65"/><text x="266.20" y="207.55" font-size="12.5" fill="#333" text-anchor="end">50</text><line x1="269.50" y1="251.00" x2="273.90" y2="251.00" stroke="#000" stroke-width="1.65"/><text x="266.20" y="255.20" font-size="12.5" fill="#333" text-anchor="end">40</text><line x1="299.20" y1="255.90" x2="299.20" y2="259.80" stroke="#000" stroke-width="1.65"/><text x="299.20" y="271.50" font-size="12.5" fill="#333" text-anchor="middle">1</text><line x1="341.60" y1="255.90" x2="341.60" y2="259.80" stroke="#000" stroke-width="1.65"/><text x="341.60" y="271.50" font-size="12.5" fill="#333" text-anchor="middle">2</text><line x1="384.00" y1="255.90" x2="384.00" y2="259.80" stroke="#000" stroke-width="1.65"/><text x="384.00" y="271.50" font-size="12.5" fill="#333" text-anchor="middle">3</text><line x1="426.00" y1="255.90" x2="426.00" y2="259.80" stroke="#000" stroke-width="1.65"/><text x="426.00" y="271.50" font-size="12.5" fill="#333" text-anchor="middle">4</text><text x="363.20" y="288.50" font-size="15.07" fill="#000" text-anchor="middle">BioAgeAccel transitions</text><text transform="translate(245.50 128.20) rotate(-90)" font-size="16.2" fill="#000" text-anchor="middle">Age at CVD onset</text><text x="233.30" y="12.85" font-size="17.4" fill="#000" stroke="#000" stroke-width="0.7">B</text></g>
<g><path d="M539.60 12.50 C539.62 13.75 539.63 17.75 539.70 20.00 C539.77 22.25 539.83 24.33 540.00 26.00 C540.17 27.67 540.42 28.50 540.70 30.00 C540.98 31.50 541.33 33.17 541.70 35.00 C542.07 36.83 542.48 39.33 542.90 41.00 C543.32 42.67 543.72 43.50 544.20 45.00 C544.68 46.50 545.17 48.33 545.80 50.00 C546.43 51.67 547.17 53.33 548.00 55.00 C548.83 56.67 550.03 58.83 550.80 60.00 C551.57 61.17 552.05 61.33 552.60 62.00 C553.15 62.67 553.65 63.33 554.10 64.00 C554.55 64.67 554.65 65.00 555.30 66.00 C555.95 67.00 557.10 68.50 558.00 70.00 C558.90 71.50 559.82 73.33 560.70 75.00 C561.58 76.67 562.47 78.33 563.30 80.00 C564.13 81.67 565.08 83.50 565.70 85.00 C566.32 86.50 566.72 87.83 567.00 89.00 C567.28 90.17 567.37 91.00 567.40 92.00 C567.43 93.00 567.45 93.67 567.20 95.00 C566.95 96.33 566.48 98.33 565.90 100.00 C565.32 101.67 564.53 103.33 563.70 105.00 C562.87 106.67 561.80 108.50 560.90 110.00 C560.00 111.50 558.93 113.00 558.30 114.00 C557.67 115.00 557.77 115.00 557.10 116.00 C556.43 117.00 555.27 118.50 554.30 120.00 C553.33 121.50 552.10 123.33 551.30 125.00 C550.50 126.67 549.95 128.50 549.50 130.00 C549.05 131.50 548.88 132.50 548.60 134.00 C548.32 135.50 548.03 137.83 547.80 139.00 C547.57 140.17 547.50 140.00 547.20 141.00 C546.90 142.00 546.48 143.50 546.00 145.00 C545.52 146.50 544.73 148.33 544.30 150.00 C543.87 151.67 543.65 153.33 543.40 155.00 C543.15 156.67 542.95 158.50 542.80 160.00 C542.65 161.50 542.62 161.50 542.50 164.00 C542.38 166.50 542.27 171.50 542.10 175.00 C541.93 178.50 541.73 181.67 541.50 185.00 C541.27 188.33 540.93 191.67 540.70 195.00 C540.47 198.33 540.32 200.33 540.10 205.00 C539.88 209.67 539.52 220.00 539.40 223.00 C539.28 220.00 538.92 209.67 538.70 205.00 C538.48 200.33 538.33 198.33 538.10 195.00 C537.87 191.67 537.53 188.33 537.30 185.00 C537.07 181.67 536.87 178.50 536.70 175.00 C536.53 171.50 536.42 166.50 536.30 164.00 C536.18 161.50 536.15 161.50 536.00 160.00 C535.85 158.50 535.65 156.67 535.40 155.00 C535.15 153.33 534.93 151.67 534.50 150.00 C534.07 148.33 533.28 146.50 532.80 145.00 C532.32 143.50 531.90 142.00 531.60 141.00 C531.30 140.00 531.23 140.17 531.00 139.00 C530.77 137.83 530.48 135.50 530.20 134.00 C529.92 132.50 529.75 131.50 529.30 130.00 C528.85 128.50 528.30 126.67 527.50 125.00 C526.70 123.33 525.47 121.50 524.50 120.00 C523.53 118.50 522.37 117.00 521.70 116.00 C521.03 115.00 521.13 115.00 520.50 114.00 C519.87 113.00 518.80 111.50 517.90 110.00 C517.00 108.50 515.93 106.67 515.10 105.00 C514.27 103.33 513.48 101.67 512.90 100.00 C512.32 98.33 511.85 96.33 511.60 95.00 C511.35 93.67 511.37 93.00 511.40 92.00 C511.43 91.00 511.52 90.17 511.80 89.00 C512.08 87.83 512.48 86.50 513.10 85.00 C513.72 83.50 514.67 81.67 515.50 80.00 C516.33 78.33 517.22 76.67 518.10 75.00 C518.98 73.33 519.90 71.50 520.80 70.00 C521.70 68.50 522.85 67.00 523.50 66.00 C524.15 65.00 524.25 64.67 524.70 64.00 C525.15 63.33 525.65 62.67 526.20 62.00 C526.75 61.33 527.23 61.17 528.00 60.00 C528.77 58.83 529.97 56.67 530.80 55.00 C531.63 53.33 532.37 51.67 533.00 50.00 C533.63 48.33 534.12 46.50 534.60 45.00 C535.08 43.50 535.48 42.67 535.90 41.00 C536.32 39.33 536.73 36.83 537.10 35.00 C537.47 33.17 537.82 31.50 538.10 30.00 C538.38 28.50 538.63 27.67 538.80 26.00 C538.97 24.33 539.03 22.25 539.10 20.00 C539.17 17.75 539.18 13.75 539.20 12.50 Z" fill="#132f55" stroke="#000" stroke-width="1.75" stroke-linejoin="round"/><line x1="539.40" y1="35.00" x2="539.40" y2="77.60" stroke="#000" stroke-width="1.6"/><line x1="539.40" y1="111.80" x2="539.40" y2="160.00" stroke="#000" stroke-width="1.6"/><circle cx="539.40" cy="170.00" r="2.9" fill="#000"/><circle cx="539.40" cy="173.50" r="2.9" fill="#000"/><circle cx="539.40" cy="177.00" r="2.9" fill="#000"/><circle cx="539.40" cy="180.50" r="2.9" fill="#000"/><circle cx="539.40" cy="184.00" r="2.9" fill="#000"/><circle cx="539.40" cy="197.70" r="2.9" fill="#000"/><rect x="534.15" y="78.35" width="10.70" height="32.70" fill="#fff" stroke="#000" stroke-width="1.5"/><line x1="534.00" y1="95.30" x2="545.00" y2="95.30" stroke="#000" stroke-width="2.5"/><path d="M595.50 22.10 C595.52 23.08 595.52 26.02 595.60 28.00 C595.68 29.98 595.83 32.33 596.00 34.00 C596.17 35.67 596.40 36.83 596.60 38.00 C596.80 39.17 596.85 39.83 597.20 41.00 C597.55 42.17 598.07 43.50 598.70 45.00 C599.33 46.50 600.23 48.33 601.00 50.00 C601.77 51.67 602.45 53.33 603.30 55.00 C604.15 56.67 605.23 58.50 606.10 60.00 C606.97 61.50 607.95 63.00 608.50 64.00 C609.05 65.00 608.82 65.00 609.40 66.00 C609.98 67.00 611.07 68.50 612.00 70.00 C612.93 71.50 614.05 73.33 615.00 75.00 C615.95 76.67 616.88 78.33 617.70 80.00 C618.52 81.67 619.32 83.50 619.90 85.00 C620.48 86.50 620.87 87.83 621.20 89.00 C621.53 90.17 621.78 91.00 621.90 92.00 C622.02 93.00 622.10 93.67 621.90 95.00 C621.70 96.33 621.27 98.33 620.70 100.00 C620.13 101.67 619.30 103.33 618.50 105.00 C617.70 106.67 616.62 108.50 615.90 110.00 C615.18 111.50 614.63 113.00 614.20 114.00 C613.77 115.00 613.75 115.00 613.30 116.00 C612.85 117.00 612.10 118.50 611.50 120.00 C610.90 121.50 610.28 123.33 609.70 125.00 C609.12 126.67 608.42 128.50 608.00 130.00 C607.58 131.50 607.50 132.50 607.20 134.00 C606.90 135.50 606.50 137.83 606.20 139.00 C605.90 140.17 605.75 140.00 605.40 141.00 C605.05 142.00 604.53 143.50 604.10 145.00 C603.67 146.50 603.23 148.33 602.80 150.00 C602.37 151.67 601.92 153.33 601.50 155.00 C601.08 156.67 600.63 158.50 600.30 160.00 C599.97 161.50 599.82 162.33 599.50 164.00 C599.18 165.67 598.67 167.33 598.40 170.00 C598.13 172.67 598.02 176.67 597.90 180.00 C597.78 183.33 597.75 185.83 597.70 190.00 C597.65 194.17 597.68 200.83 597.60 205.00 C597.52 209.17 597.50 212.17 597.20 215.00 C596.90 217.83 596.12 217.42 595.80 222.00 C595.48 226.58 595.38 239.08 595.30 242.50 C595.22 239.08 595.12 226.58 594.80 222.00 C594.48 217.42 593.70 217.83 593.40 215.00 C593.10 212.17 593.08 209.17 593.00 205.00 C592.92 200.83 592.95 194.17 592.90 190.00 C592.85 185.83 592.82 183.33 592.70 180.00 C592.58 176.67 592.47 172.67 592.20 170.00 C591.93 167.33 591.42 165.67 591.10 164.00 C590.78 162.33 590.63 161.50 590.30 160.00 C589.97 158.50 589.52 156.67 589.10 155.00 C588.68 153.33 588.23 151.67 587.80 150.00 C587.37 148.33 586.93 146.50 586.50 145.00 C586.07 143.50 585.55 142.00 585.20 141.00 C584.85 140.00 584.70 140.17 584.40 139.00 C584.10 137.83 583.70 135.50 583.40 134.00 C583.10 132.50 583.02 131.50 582.60 130.00 C582.18 128.50 581.48 126.67 580.90 125.00 C580.32 123.33 579.70 121.50 579.10 120.00 C578.50 118.50 577.75 117.00 577.30 116.00 C576.85 115.00 576.83 115.00 576.40 114.00 C575.97 113.00 575.42 111.50 574.70 110.00 C573.98 108.50 572.90 106.67 572.10 105.00 C571.30 103.33 570.47 101.67 569.90 100.00 C569.33 98.33 568.90 96.33 568.70 95.00 C568.50 93.67 568.58 93.00 568.70 92.00 C568.82 91.00 569.07 90.17 569.40 89.00 C569.73 87.83 570.12 86.50 570.70 85.00 C571.28 83.50 572.08 81.67 572.90 80.00 C573.72 78.33 574.65 76.67 575.60 75.00 C576.55 73.33 577.67 71.50 578.60 70.00 C579.53 68.50 580.62 67.00 581.20 66.00 C581.78 65.00 581.55 65.00 582.10 64.00 C582.65 63.00 583.63 61.50 584.50 60.00 C585.37 58.50 586.45 56.67 587.30 55.00 C588.15 53.33 588.83 51.67 589.60 50.00 C590.37 48.33 591.27 46.50 591.90 45.00 C592.53 43.50 593.05 42.17 593.40 41.00 C593.75 39.83 593.80 39.17 594.00 38.00 C594.20 36.83 594.43 35.67 594.60 34.00 C594.77 32.33 594.92 29.98 595.00 28.00 C595.08 26.02 595.08 23.08 595.10 22.10 Z" fill="#0fbbc3" stroke="#000" stroke-width="1.75" stroke-linejoin="round"/><line x1="595.30" y1="45.50" x2="595.30" y2="82.10" stroke="#000" stroke-width="1.6"/><line x1="595.30" y1="122.90" x2="595.30" y2="182.00" stroke="#000" stroke-width="1.6"/><circle cx="595.30" cy="183.00" r="2.9" fill="#000"/><circle cx="595.30" cy="186.00" r="2.9" fill="#000"/><circle cx="595.30" cy="189.00" r="2.9" fill="#000"/><circle cx="595.30" cy="192.00" r="2.9" fill="#000"/><circle cx="595.30" cy="195.00" r="2.9" fill="#000"/><circle cx="595.30" cy="198.00" r="2.9" fill="#000"/><circle cx="595.30" cy="201.00" r="2.9" fill="#000"/><circle cx="595.30" cy="210.00" r="2.9" fill="#000"/><circle cx="595.30" cy="218.00" r="2.9" fill="#000"/><rect x="589.60" y="82.85" width="11.40" height="39.30" fill="#fff" stroke="#000" stroke-width="1.5"/><line x1="589.45" y1="98.80" x2="601.15" y2="98.80" stroke="#000" stroke-width="2.5"/><path d="M651.00 16.20 C651.02 17.17 651.05 19.87 651.10 22.00 C651.15 24.13 651.17 27.00 651.30 29.00 C651.43 31.00 651.72 32.50 651.90 34.00 C652.08 35.50 652.25 36.83 652.40 38.00 C652.55 39.17 652.63 39.83 652.80 41.00 C652.97 42.17 653.12 43.50 653.40 45.00 C653.68 46.50 654.05 48.33 654.50 50.00 C654.95 51.67 655.55 53.33 656.10 55.00 C656.65 56.67 657.27 58.50 657.80 60.00 C658.33 61.50 658.95 63.00 659.30 64.00 C659.65 65.00 659.53 65.00 659.90 66.00 C660.27 67.00 660.83 68.50 661.50 70.00 C662.17 71.50 663.13 73.33 663.90 75.00 C664.67 76.67 665.37 78.33 666.10 80.00 C666.83 81.67 667.60 83.50 668.30 85.00 C669.00 86.50 669.83 88.00 670.30 89.00 C670.77 90.00 670.63 90.00 671.10 91.00 C671.57 92.00 672.40 93.50 673.10 95.00 C673.80 96.50 674.72 98.33 675.30 100.00 C675.88 101.67 676.30 103.33 676.60 105.00 C676.90 106.67 677.08 108.50 677.10 110.00 C677.12 111.50 676.87 113.00 676.70 114.00 C676.53 115.00 676.62 115.00 676.10 116.00 C675.58 117.00 674.63 118.50 673.60 120.00 C672.57 121.50 670.97 123.33 669.90 125.00 C668.83 126.67 667.93 128.50 667.20 130.00 C666.47 131.50 666.08 132.50 665.50 134.00 C664.92 135.50 664.17 137.83 663.70 139.00 C663.23 140.17 663.13 140.00 662.70 141.00 C662.27 142.00 661.65 143.50 661.10 145.00 C660.55 146.50 659.92 148.33 659.40 150.00 C658.88 151.67 658.45 153.33 658.00 155.00 C657.55 156.67 657.05 158.50 656.70 160.00 C656.35 161.50 656.17 162.33 655.90 164.00 C655.63 165.67 655.32 167.33 655.10 170.00 C654.88 172.67 654.77 176.67 654.60 180.00 C654.43 183.33 654.28 186.67 654.10 190.00 C653.92 193.33 653.70 196.67 653.50 200.00 C653.30 203.33 653.13 207.00 652.90 210.00 C652.67 213.00 652.38 215.33 652.10 218.00 C651.82 220.67 651.42 221.75 651.20 226.00 C650.98 230.25 650.87 240.58 650.80 243.50 C650.73 240.58 650.62 230.25 650.40 226.00 C650.18 221.75 649.78 220.67 649.50 218.00 C649.22 215.33 648.93 213.00 648.70 210.00 C648.47 207.00 648.30 203.33 648.10 200.00 C647.90 196.67 647.68 193.33 647.50 190.00 C647.32 186.67 647.17 183.33 647.00 180.00 C646.83 176.67 646.72 172.67 646.50 170.00 C646.28 167.33 645.97 165.67 645.70 164.00 C645.43 162.33 645.25 161.50 644.90 160.00 C644.55 158.50 644.05 156.67 643.60 155.00 C643.15 153.33 642.72 151.67 642.20 150.00 C641.68 148.33 641.05 146.50 640.50 145.00 C639.95 143.50 639.33 142.00 638.90 141.00 C638.47 140.00 638.37 140.17 637.90 139.00 C637.43 137.83 636.68 135.50 636.10 134.00 C635.52 132.50 635.13 131.50 634.40 130.00 C633.67 128.50 632.77 126.67 631.70 125.00 C630.63 123.33 629.03 121.50 628.00 120.00 C626.97 118.50 626.02 117.00 625.50 116.00 C624.98 115.00 625.07 115.00 624.90 114.00 C624.73 113.00 624.48 111.50 624.50 110.00 C624.52 108.50 624.70 106.67 625.00 105.00 C625.30 103.33 625.72 101.67 626.30 100.00 C626.88 98.33 627.80 96.50 628.50 95.00 C629.20 93.50 630.03 92.00 630.50 91.00 C630.97 90.00 630.83 90.00 631.30 89.00 C631.77 88.00 632.60 86.50 633.30 85.00 C634.00 83.50 634.77 81.67 635.50 80.00 C636.23 78.33 636.93 76.67 637.70 75.00 C638.47 73.33 639.43 71.50 640.10 70.00 C640.77 68.50 641.33 67.00 641.70 66.00 C642.07 65.00 641.95 65.00 642.30 64.00 C642.65 63.00 643.27 61.50 643.80 60.00 C644.33 58.50 644.95 56.67 645.50 55.00 C646.05 53.33 646.65 51.67 647.10 50.00 C647.55 48.33 647.92 46.50 648.20 45.00 C648.48 43.50 648.63 42.17 648.80 41.00 C648.97 39.83 649.05 39.17 649.20 38.00 C649.35 36.83 649.52 35.50 649.70 34.00 C649.88 32.50 650.17 31.00 650.30 29.00 C650.43 27.00 650.45 24.13 650.50 22.00 C650.55 19.87 650.58 17.17 650.60 16.20 Z" fill="#f4b179" stroke="#000" stroke-width="1.75" stroke-linejoin="round"/><line x1="650.80" y1="45.90" x2="650.80" y2="93.10" stroke="#000" stroke-width="1.6"/><line x1="650.80" y1="132.50" x2="650.80" y2="190.00" stroke="#000" stroke-width="1.6"/><circle cx="650.80" cy="194.40" r="2.9" fill="#000"/><circle cx="650.80" cy="205.00" r="2.9" fill="#000"/><circle cx="650.80" cy="209.50" r="2.9" fill="#000"/><circle cx="650.80" cy="213.00" r="2.9" fill="#000"/><rect x="645.60" y="93.85" width="10.60" height="37.90" fill="#fff" stroke="#000" stroke-width="1.5"/><line x1="645.45" y1="108.80" x2="656.35" y2="108.80" stroke="#000" stroke-width="2.5"/><path d="M506.80 1.50 V254.50 H683.80" fill="none" stroke="#000" stroke-width="1.65" stroke-linecap="butt" stroke-linejoin="round"/><line x1="502.40" y1="9.39" x2="506.80" y2="9.39" stroke="#000" stroke-width="1.65"/><text x="499.10" y="13.59" font-size="12.5" fill="#333" text-anchor="end">90</text><line x1="502.40" y1="58.10" x2="506.80" y2="58.10" stroke="#000" stroke-width="1.65"/><text x="499.10" y="62.30" font-size="12.5" fill="#333" text-anchor="end">80</text><line x1="502.40" y1="106.81" x2="506.80" y2="106.81" stroke="#000" stroke-width="1.65"/><text x="499.10" y="111.01" font-size="12.5" fill="#333" text-anchor="end">70</text><line x1="502.40" y1="155.52" x2="506.80" y2="155.52" stroke="#000" stroke-width="1.65"/><text x="499.10" y="159.72" font-size="12.5" fill="#333" text-anchor="end">60</text><line x1="502.40" y1="204.23" x2="506.80" y2="204.23" stroke="#000" stroke-width="1.65"/><text x="499.10" y="208.43" font-size="12.5" fill="#333" text-anchor="end">50</text><line x1="502.40" y1="252.94" x2="506.80" y2="252.94" stroke="#000" stroke-width="1.65"/><text x="499.10" y="257.14" font-size="12.5" fill="#333" text-anchor="end">40</text><line x1="539.60" y1="254.50" x2="539.60" y2="258.40" stroke="#000" stroke-width="1.65"/><text x="539.60" y="270.10" font-size="12.5" fill="#333" text-anchor="middle">&lt;20%</text><line x1="595.40" y1="254.50" x2="595.40" y2="258.40" stroke="#000" stroke-width="1.65"/><text x="595.40" y="270.10" font-size="12.5" fill="#333" text-anchor="middle">20~80%</text><line x1="650.80" y1="254.50" x2="650.80" y2="258.40" stroke="#000" stroke-width="1.65"/><text x="650.80" y="270.10" font-size="12.5" fill="#333" text-anchor="middle">&gt;80%</text><text x="595.15" y="287.90" font-size="16.25" fill="#000" text-anchor="middle">Cumulative BioAgeAccel</text><text transform="translate(478.30 128.50) rotate(-90)" font-size="16.2" fill="#000" text-anchor="middle">Age at CVD onset</text><text x="466.00" y="12.85" font-size="17.4" fill="#000" stroke="#000" stroke-width="0.7">C</text></g>
</svg></body></html>
